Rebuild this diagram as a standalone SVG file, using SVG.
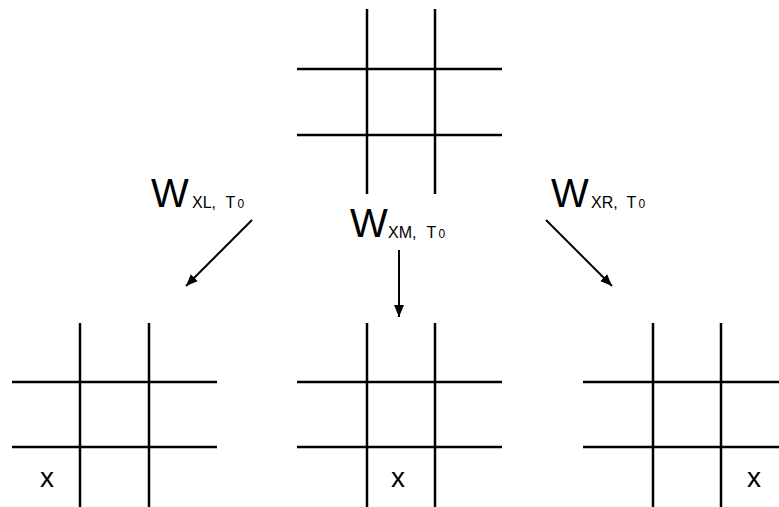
<svg xmlns="http://www.w3.org/2000/svg" width="779" height="507" viewBox="0 0 779 507">
<style>
.g line{stroke:#000;stroke-width:2.5;fill:none}
.c line{stroke:#000;stroke-width:2;fill:none}
.w{font-family:"Liberation Sans",Arial,sans-serif;font-size:40px;fill:#000}
.s{font-family:"Liberation Sans",Arial,sans-serif;font-size:16px;fill:#000}
.z{font-size:12px}
.x{font-family:"Liberation Sans",Arial,sans-serif;font-size:28px;fill:#000}
</style>
<defs>
<marker id="ah" viewBox="0 0 12 10" refX="12" refY="5" markerWidth="12" markerHeight="10" markerUnits="userSpaceOnUse" orient="auto">
<path d="M0,0 L12,5 L0,10 Z" fill="#000"/>
</marker>
</defs>
<rect width="779" height="507" fill="#fff"/>
<g id="top" class="g">
<line x1="367" y1="9" x2="367" y2="194"/>
<line x1="435" y1="9" x2="435" y2="194"/>
<line x1="297" y1="69" x2="502" y2="69"/>
<line x1="297" y1="135" x2="502" y2="135"/>
</g>
<g id="left" class="g">
<line x1="80" y1="323" x2="80" y2="507"/>
<line x1="149" y1="323" x2="149" y2="507"/>
<line x1="12" y1="382" x2="217" y2="382"/>
<line x1="12" y1="447" x2="217" y2="447"/>
<text class="x" x="40" y="487">x</text>
</g>
<g id="middle" class="g">
<line x1="367" y1="323" x2="367" y2="507"/>
<line x1="435" y1="323" x2="435" y2="507"/>
<line x1="297" y1="382" x2="502" y2="382"/>
<line x1="297" y1="447" x2="502" y2="447"/>
<text class="x" x="391" y="487">x</text>
</g>
<g id="right" class="g">
<line x1="653" y1="323" x2="653" y2="507"/>
<line x1="721" y1="323" x2="721" y2="507"/>
<line x1="583" y1="382" x2="779" y2="382"/>
<line x1="583" y1="447" x2="779" y2="447"/>
<text class="x" x="747" y="487">x</text>
</g>
<g id="connectors" class="c">
<line x1="252" y1="220" x2="186" y2="286" marker-end="url(#ah)"/>
<line x1="399" y1="250" x2="399" y2="317" marker-end="url(#ah)"/>
<line x1="546" y1="220" x2="612" y2="286" marker-end="url(#ah)"/>
</g>
<g id="label-left">
<text class="w" x="151" y="207">W</text>
<text class="s" x="192" y="208">XL,<tspan x="225.5">T</tspan><tspan class="z" x="237.5">0</tspan></text>
</g>
<g id="label-middle">
<text class="w" x="350" y="237">W</text>
<text class="s" x="388" y="238">XM,<tspan x="426.5">T</tspan><tspan class="z" x="438.5">0</tspan></text>
</g>
<g id="label-right">
<text class="w" x="551" y="207">W</text>
<text class="s" x="591" y="208">XR,<tspan x="626.5">T</tspan><tspan class="z" x="638.5">0</tspan></text>
</g>
</svg>
